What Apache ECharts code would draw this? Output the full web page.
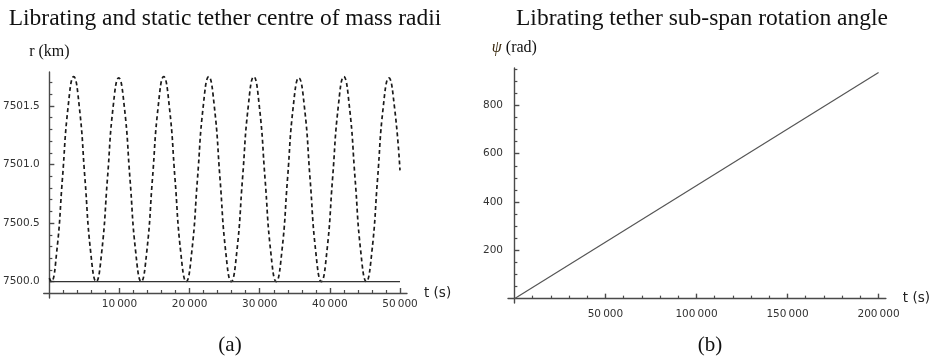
<!DOCTYPE html>
<html>
<head>
<meta charset="utf-8">
<script src="https://cdn.jsdelivr.net/npm/echarts@6/dist/echarts.min.js"></script>
<style>
  html, body { margin: 0; padding: 0; background: #fff; }
  #chart { width: 933px; height: 358px; }
</style>
</head>
<body>
<div id="chart"></div>
<script>
// (a) librating centre of mass radius
const radiusTime = [
  0, 260, 1060, 1865, 2670, 3470, 4275, 5075, 5880,
  6680, 7480, 8285, 9090, 9890, 10695, 11495, 12300,
  13100, 13900, 14705, 15510, 16310, 17115, 17915, 18720,
  19520, 20320, 21125, 21930, 22730, 23535, 24335, 25140,
  25940, 26740, 27545, 28350, 29150, 29955, 30755, 31560,
  32360, 33160, 33965, 34770, 35570, 36375, 37175, 37980,
  38780, 39580, 40385, 41190, 41990, 42795, 43595, 44400,
  45200, 46000, 46805, 47610, 48410, 49215, 50000
];
const radiusKm = [
  7500.03, 7500.00, 7500.26, 7500.88, 7501.49, 7501.75, 7501.49, 7500.88, 7500.26,
  7500.00, 7500.26, 7500.88, 7501.49, 7501.74, 7501.49, 7500.88, 7500.26,
  7500.00, 7500.26, 7500.88, 7501.49, 7501.75, 7501.49, 7500.88, 7500.26,
  7500.00, 7500.26, 7500.88, 7501.49, 7501.75, 7501.49, 7500.88, 7500.26,
  7500.00, 7500.26, 7500.88, 7501.49, 7501.75, 7501.49, 7500.88, 7500.26,
  7500.00, 7500.26, 7500.88, 7501.49, 7501.74, 7501.49, 7500.88, 7500.26,
  7500.00, 7500.26, 7500.88, 7501.49, 7501.75, 7501.49, 7500.88, 7500.26,
  7500.00, 7500.26, 7500.88, 7501.49, 7501.74, 7501.49, 7500.95
];
// static tether radius
const staticTime = [0, 50000];
const staticKm = [7500, 7500];
// (b) sub-span rotation angle
const angleTime = [0, 200000];
const angleRad = [0, 936];

// tick values
const leftXMajor = [10000, 20000, 30000, 40000, 50000];
const leftXMinor = [2000, 4000, 6000, 8000, 12000, 14000, 16000, 18000, 22000, 24000, 26000, 28000,
  32000, 34000, 36000, 38000, 42000, 44000, 46000, 48000];
const leftYMajor = [7500.0, 7500.5, 7501.0, 7501.5];
const leftYMinor = [7500.1, 7500.2, 7500.3, 7500.4, 7500.6, 7500.7, 7500.8, 7500.9,
  7501.1, 7501.2, 7501.3, 7501.4, 7501.6, 7501.7];
const rightXMajor = [50000, 100000, 150000, 200000];
const rightXMinor = [10000, 20000, 30000, 40000, 60000, 70000, 80000, 90000, 110000, 120000,
  130000, 140000, 160000, 170000, 180000, 190000];
const rightYMajor = [200, 400, 600, 800];
const rightYMinor = [50, 100, 150, 250, 300, 350, 450, 500, 550, 650, 700, 750, 850, 900, 950];

const axisColor = "#4a4a4a";
const labelFont = { color: "#333", fontFamily: "DejaVu Sans", fontSize: 10.5 };

function spaced(v) {
  const s = String(Math.round(v));
  return s.length > 4 ? s.slice(0, -3) + "\u2009" + s.slice(-3) : s;
}

function majorAxis(opts) {
  return Object.assign({
    type: "value",
    splitLine: { show: false },
    axisLine: { show: true, onZero: true, lineStyle: { color: axisColor, width: 1.4 } },
    axisTick: { show: true, inside: true, length: 5, customValues: opts.ticks, lineStyle: { color: axisColor, width: 1.4 } },
    axisLabel: Object.assign({ customValues: opts.ticks, formatter: opts.fmt, margin: opts.margin }, labelFont)
  }, opts.extra);
}

function minorAxis(opts) {
  return Object.assign({
    type: "value",
    splitLine: { show: false },
    axisLine: { show: false, onZero: true },
    axisTick: { show: true, inside: true, length: 3, customValues: opts.ticks, lineStyle: { color: axisColor, width: 1.2 } },
    axisLabel: { show: false }
  }, opts.extra);
}

const chart = echarts.init(document.getElementById("chart"));
const serif = "Liberation Serif";

chart.setOption({
  animation: false,
  backgroundColor: "#fff",
  graphic: [
    { type: "text", x: 225, y: 19, style: { text: "Librating and static tether centre of mass radii", align: "center", verticalAlign: "middle", font: "23.5px " + serif, fill: "#111" } },
    { type: "text", x: 702, y: 19, style: { text: "Librating tether sub-span rotation angle", align: "center", verticalAlign: "middle", font: "23.5px " + serif, fill: "#111" } },
    { type: "text", x: 230, y: 345, style: { text: "(a)", align: "center", verticalAlign: "middle", font: "21px " + serif, fill: "#111" } },
    { type: "text", x: 710, y: 345, style: { text: "(b)", align: "center", verticalAlign: "middle", font: "21px " + serif, fill: "#111" } }
  ],
  grid: [
    { left: 42, top: 72, width: 365, height: 226 },
    { left: 508, top: 68, width: 380, height: 235 }
  ],
  xAxis: [
    majorAxis({ ticks: leftXMajor, fmt: spaced, margin: 6, extra: {
      gridIndex: 0, min: -800, max: 51000, position: "bottom", offset: -5,
      name: "t (s)", nameLocation: "end", nameGap: 17,
      nameTextStyle: { fontFamily: "DejaVu Sans", fontSize: 13.5, color: "#222" } } }),
    minorAxis({ ticks: leftXMinor, extra: { gridIndex: 0, min: -800, max: 51000, position: "bottom", offset: -5 } }),
    majorAxis({ ticks: rightXMajor, fmt: spaced, margin: 6, extra: {
      gridIndex: 1, min: -3500, max: 204000, position: "bottom",
      name: "t (s)", nameLocation: "end", nameGap: 17,
      nameTextStyle: { fontFamily: "DejaVu Sans", fontSize: 13.5, color: "#222" } } }),
    minorAxis({ ticks: rightXMinor, extra: { gridIndex: 1, min: -3500, max: 204000, position: "bottom" } })
  ],
  yAxis: [
    majorAxis({ ticks: leftYMajor, fmt: v => v.toFixed(1), margin: 4, extra: {
      gridIndex: 0, min: 7499.86, max: 7501.79, position: "left",
      name: "r (km)", nameLocation: "end", nameGap: 12,
      nameTextStyle: { fontFamily: serif, fontSize: 16, color: "#111" } } }),
    minorAxis({ ticks: leftYMinor, extra: { gridIndex: 0, min: 7499.86, max: 7501.79, position: "left" } }),
    majorAxis({ ticks: rightYMajor, fmt: v => String(Math.round(v)), margin: 5, extra: {
      gridIndex: 1, min: -18, max: 955, position: "left",
      name: "{i|\u03C8} (rad)", nameLocation: "end", nameGap: 12,
      nameTextStyle: {
        fontFamily: serif, fontSize: 16, color: "#111",
        rich: { i: { fontFamily: serif, fontSize: 16, fontStyle: "italic", color: "#3a2a10" } }
      } } }),
    minorAxis({ ticks: rightYMinor, extra: { gridIndex: 1, min: -18, max: 955, position: "left" } })
  ],
  series: [
    {
      type: "line", xAxisIndex: 0, yAxisIndex: 0, smooth: true, showSymbol: false,
      data: radiusTime.map((t, i) => [t, radiusKm[i]]),
      lineStyle: { color: "#1a1a1a", width: 1.7, type: [4, 3] }
    },
    {
      type: "line", xAxisIndex: 0, yAxisIndex: 0, showSymbol: false,
      data: staticTime.map((t, i) => [t, staticKm[i]]),
      lineStyle: { color: "#333", width: 1.3 }
    },
    {
      type: "line", xAxisIndex: 2, yAxisIndex: 2, showSymbol: false,
      data: angleTime.map((t, i) => [t, angleRad[i]]),
      lineStyle: { color: "#555", width: 1.2 }
    }
  ]
});
</script>
</body>
</html>
